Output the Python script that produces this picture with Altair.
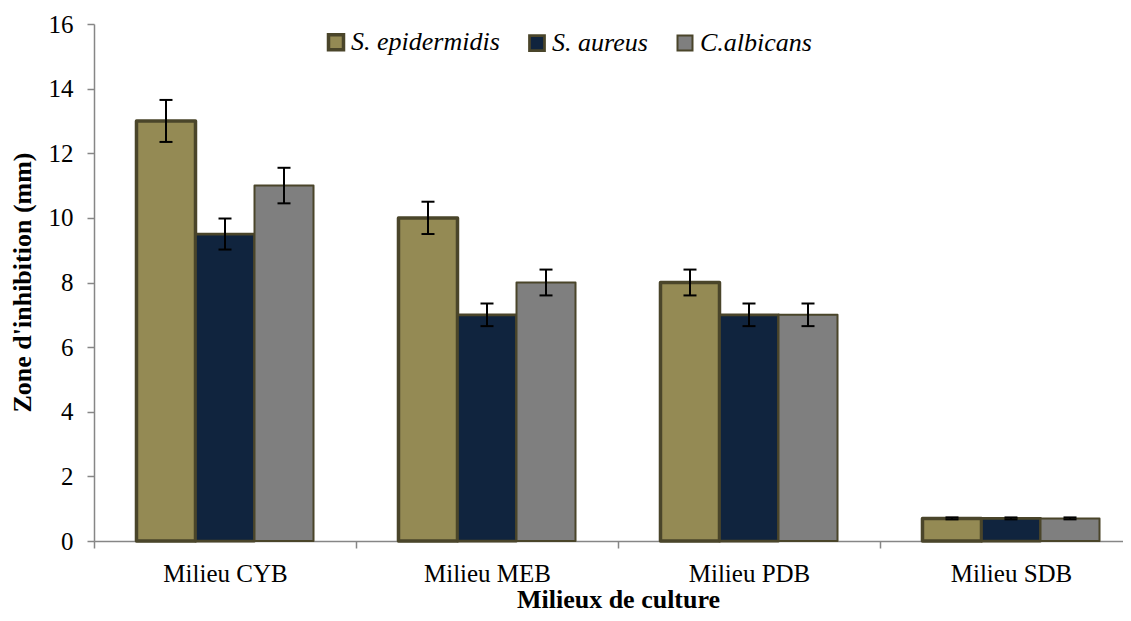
import altair as alt
import pandas as pd

categories = ["Milieu CYB", "Milieu MEB", "Milieu PDB", "Milieu SDB"]
series = ["S. epidermidis", "S. aureus", "C.albicans"]
epi = [13.0, 10.0, 8.0, 0.7]
aur = [9.5, 7.0, 7.0, 0.7]
alb = [11.0, 8.0, 7.0, 0.7]
epi_err = [0.65, 0.5, 0.4, 0.03]
aur_err = [0.48, 0.35, 0.35, 0.03]
alb_err = [0.55, 0.4, 0.35, 0.03]
y_ticks = [0, 2, 4, 6, 8, 10, 12, 14, 16]
colors = ["#948A54", "#10243E", "#7F7F7F"]

rows = []
for s, vals, errs in zip(series, [epi, aur, alb], [epi_err, aur_err, alb_err]):
    for c, v, e in zip(categories, vals, errs):
        rows.append({"cat": c, "series": s, "value": v, "lo": v - e, "hi": v + e})
df = pd.DataFrame(rows)

FONT = "Liberation Serif"

x_enc = alt.X("cat:N", sort=categories,
              scale=alt.Scale(domain=categories, range=[0, 1048], paddingInner=0, paddingOuter=0),
              axis=alt.Axis(title="Milieux de culture", labelAngle=0, tickBand="extent",
                            labelFont=FONT, titleFont=FONT,
                            labelFontSize=25, labelBaseline="alphabetic", labelPadding=33,
                            titleFontSize=26, titleFontWeight="bold",
                            titleY=66, titleBaseline="alphabetic",
                            domainColor="#868686", tickColor="#868686",
                            tickSize=7, domainWidth=1.5, tickWidth=1.5, labelColor="black", titleColor="black"))
xoff = alt.XOffset("series:N", sort=series,
                   scale=alt.Scale(domain=series, paddingOuter=0.72, paddingInner=0))

bars = alt.Chart(df).mark_bar(stroke="#4A452A", strokeJoin="round").encode(
    x=x_enc,
    xOffset=xoff,
    y=alt.Y("value:Q", scale=alt.Scale(domain=[0, 16], nice=False),
            axis=alt.Axis(title="Zone d'inhibition (mm)", values=y_ticks, grid=False,
                          labelFont=FONT, titleFont=FONT,
                          labelFontSize=25, labelPadding=14, titleFontSize=26, titleFontWeight="bold",
                          titleX=-72, titleY=258, titleAngle=-90, titleBaseline="middle", titleAlign="center",
                          domainColor="#868686", tickColor="#868686", tickSize=7,
                          domainWidth=1.5, tickWidth=1.5, labelColor="black", titleColor="black")),
    color=alt.Color("series:N", sort=series, scale=alt.Scale(domain=series, range=colors),
                    legend=alt.Legend(title=None, orient="none", legendX=229, legendY=5,
                                      direction="horizontal", columnPadding=24, labelOffset=2,
                                      symbolType="square", symbolSize=225, symbolStrokeColor="#4A452A",
                                      symbolStrokeWidth=2, labelFont=FONT, labelFontSize=26,
                                      labelFontStyle="italic",
                                      labelLimit=300, labelColor="black", padding=0)),
    strokeWidth=alt.StrokeWidth("series:N", sort=series,
                                scale=alt.Scale(domain=series, range=[3.5, 2, 2]), legend=None),
)

rules = alt.Chart(df).mark_rule(color="black", strokeWidth=2).encode(
    x=alt.X("cat:N", sort=categories), xOffset=xoff,
    y="lo:Q", y2="hi:Q",
)
caps_lo = alt.Chart(df).mark_tick(color="black", size=13, thickness=2, orient="horizontal", opacity=1).encode(
    x=alt.X("cat:N", sort=categories), xOffset=xoff, y="lo:Q",
)
caps_hi = alt.Chart(df).mark_tick(color="black", size=13, thickness=2, orient="horizontal", opacity=1).encode(
    x=alt.X("cat:N", sort=categories), xOffset=xoff, y="hi:Q",
)

chart = alt.layer(bars, rules, caps_lo, caps_hi).properties(
    width=1029, height=517,
    padding={"left": 86, "top": 16, "right": 0, "bottom": 72},
    autosize=alt.AutoSizeParams(type="none"),
).configure(font=FONT).configure_view(stroke=None)

chart.save("out.html", embed_options={"renderer": "svg", "actions": False})
